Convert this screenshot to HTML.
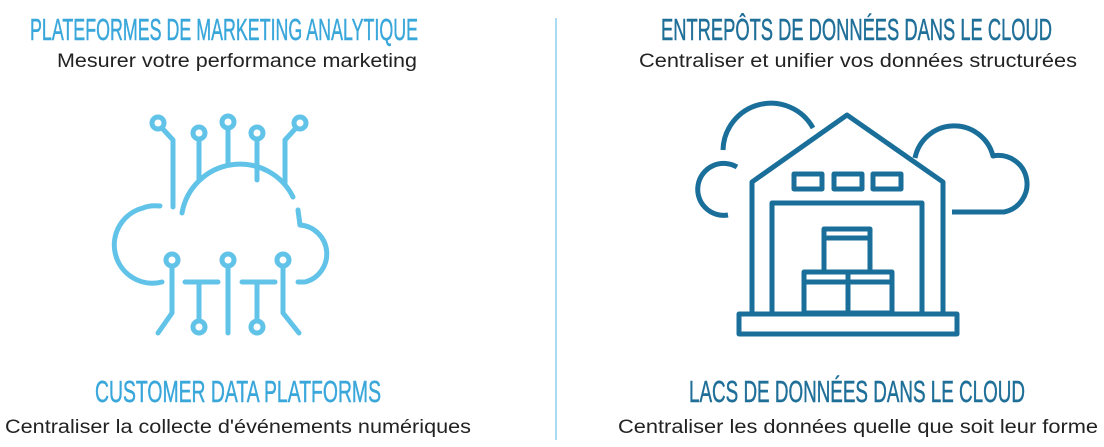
<!DOCTYPE html>
<html><head><meta charset="utf-8"><style>
html,body{margin:0;padding:0;background:#fff;width:1104px;height:447px;overflow:hidden}
svg{display:block}
.t{font-family:"Liberation Sans Narrow","Liberation Sans",sans-serif;font-size:31px;stroke-width:0.5px}
.s{font-family:"Liberation Sans",sans-serif;font-size:19px;fill:#222}
</style></head><body>
<svg width="1104" height="447" viewBox="0 0 1104 447">
<line x1="556" y1="18" x2="556" y2="440" stroke="#8fcfee" stroke-width="1.5"/>
<text class="t" x="30" y="40" textLength="388" lengthAdjust="spacingAndGlyphs" fill="#3aa7db" stroke="#3aa7db">PLATEFORMES DE MARKETING ANALYTIQUE</text>
<text class="s" x="57" y="67" textLength="360" lengthAdjust="spacingAndGlyphs">Mesurer votre performance marketing</text>
<text class="t" x="661" y="40" textLength="391" lengthAdjust="spacingAndGlyphs" fill="#1f6f98" stroke="#1f6f98">ENTREPÔTS DE DONNÉES DANS LE CLOUD</text>
<text class="s" x="639" y="67" textLength="438" lengthAdjust="spacingAndGlyphs">Centraliser et unifier vos données structurées</text>
<text class="t" x="95" y="402" textLength="286" lengthAdjust="spacingAndGlyphs" fill="#3aa7db" stroke="#3aa7db">CUSTOMER DATA PLATFORMS</text>
<text class="s" x="5" y="433" textLength="466" lengthAdjust="spacingAndGlyphs">Centraliser la collecte d'événements numériques</text>
<text class="t" x="689" y="402" textLength="336" lengthAdjust="spacingAndGlyphs" fill="#1f6f98" stroke="#1f6f98">LACS DE DONNÉES DANS LE CLOUD</text>
<text class="s" x="618" y="433" textLength="480" lengthAdjust="spacingAndGlyphs">Centraliser les données quelle que soit leur forme</text>

<g fill="none" stroke="#62c3e9" stroke-width="5" stroke-linecap="round" stroke-linejoin="round">
<path d="M182 213 A59 59 0 0 1 293 197"/>
<path d="M160 206 Q150 205 143 208"/>
<path d="M143 208 A38 38 0 0 0 162 282"/>
<path d="M298 210 L300 225"/>
<path d="M300 225 A29 29 0 0 1 305 282 L298 282"/>
<path d="M185 282 H218 M242 282 H275"/>
<circle cx="158" cy="123" r="6"/><circle cx="199" cy="133" r="6"/><circle cx="228" cy="122" r="6"/><circle cx="257" cy="133" r="6"/><circle cx="300" cy="123" r="6"/>
<path d="M162 128 L173 140 V207"/>
<path d="M199 139 V180"/><path d="M228 128 V163"/><path d="M257 139 V180"/>
<path d="M296 128 L285 140 V183"/>
<circle cx="172" cy="260" r="6"/><circle cx="228" cy="260" r="6"/><circle cx="283" cy="260" r="6"/>
<circle cx="199" cy="327" r="6"/><circle cx="257" cy="327" r="6"/>
<path d="M172 266 V313 L158 333"/><path d="M228 266 V333"/><path d="M283 266 V313 L299 333"/>
<path d="M199 282 V321"/><path d="M257 282 V321"/>
</g>

<g fill="none" stroke="#1a6f9a" stroke-width="5" stroke-linejoin="round">
<path d="M723 150 A48 48 0 0 1 813 128"/>
<path d="M737 167 A26 26 0 1 0 728 215"/>
<path d="M915 158 A40 40 0 0 1 993 156 A28 28 0 0 1 1004 212 L952 212"/>
<path d="M752 313 V182 L847 115 L943 182 V313"/>
<rect x="739" y="314" width="218" height="20"/>
<path d="M772 313 V203 H922 V313"/>
<rect x="794" y="174" width="28" height="15"/><rect x="834" y="174" width="28" height="15"/><rect x="873" y="174" width="28" height="15"/>
<rect x="824" y="229" width="46" height="43"/><line x1="824" y1="238" x2="870" y2="238"/>
<rect x="804" y="272" width="88" height="41"/><line x1="848" y1="272" x2="848" y2="313"/><line x1="804" y1="282" x2="892" y2="282"/>
</g>
</svg>
</body></html>
